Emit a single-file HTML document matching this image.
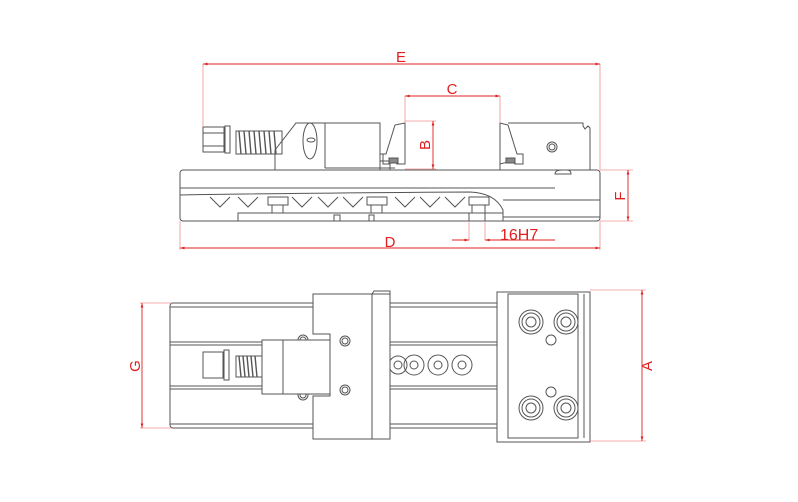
<!DOCTYPE html>
<html><head><style>body{margin:0;background:#fff}svg{display:block}</style></head><body>
<svg width="798" height="502" viewBox="0 0 798 502" xmlns="http://www.w3.org/2000/svg" font-family="Liberation Sans, sans-serif">
<defs>
<marker id="a" viewBox="0 0 10 10" refX="10" refY="5" markerWidth="7" markerHeight="5" orient="auto-start-reverse"><path d="M0,2 L10,5 L0,8 z" fill="#e02020"/></marker>
</defs>
<g fill="none" stroke="#555" stroke-width="1">
<!-- top view rail -->
<rect x="180" y="170" width="420" height="51" rx="3"/>
<line x1="180" y1="188" x2="555" y2="188"/>
<path d="M180,195 Q300,193 470,192 Q495,193 503,210 L503,221"/>
<line x1="503" y1="200" x2="600" y2="200"/>
<line x1="503" y1="217" x2="600" y2="217"/>
<rect x="238" y="213" width="265" height="8"/>
<rect x="334" y="215" width="6" height="6"/><rect x="369" y="215" width="5" height="6"/>
<path d="M555,174 Q555,170 562,170 L567,170 Q571,170 571,174 Z"/>
<path d="M210,197 L220,207 L230,197 M238,197 L248,207 L258,197 M292,197 L302,207 L312,197 M318,197 L328,207 L338,197 M343,197 L353,207 L363,197 M395,197 L405,207 L415,197 M420,197 L430,207 L440,197 M445,197 L455,207 L465,197"/>
<rect x="268" y="197" width="20" height="8"/><rect x="272" y="205" width="11" height="8"/>
<rect x="367" y="197" width="20" height="8"/><rect x="371" y="205" width="11" height="8"/>
<rect x="469" y="197" width="20" height="8"/><rect x="472" y="205" width="13" height="8"/>
<rect x="469" y="213" width="16" height="8"/>
<rect x="203" y="127" width="21" height="25"/><line x1="203" y1="133" x2="224" y2="133"/><line x1="203" y1="146" x2="224" y2="146"/>
<rect x="225" y="126" width="5" height="27"/>
<path d="M236,131 L282,131 L282,154 L236,154 Z"/>
<path d="M239,131 L241,154 M244,131 L246,154 M249,131 L251,154 M254,131 L256,154 M259,131 L261,154 M264,131 L266,154 M269,131 L271,154 M274,131 L276,154" stroke-width="1.4"/>
<path d="M275,170 L275,150 L296,123 L380,123 L380,170"/>
<line x1="325" y1="123" x2="325" y2="168"/>
<line x1="325" y1="168" x2="395" y2="168"/>
<ellipse cx="310" cy="141" rx="7" ry="18"/><ellipse cx="311" cy="140" rx="4" ry="2"/>
<path d="M380,161 L380,154 L386,154 L395,125 L405,123 L405,164 L397,164 L395,161 Z M383,154 L383,164 L390,164 L390,170"/>
<rect x="389" y="158" width="9" height="5" fill="#888"/>
<path d="M500,123 L508,125 L517,154 L523,154 L523,164 L515,164 L512,161 L500,164 Z"/>
<rect x="506" y="158" width="9" height="5" fill="#888"/>
<path d="M500,164 L500,170 M508,123 L583,123 L583,126 L585,129 L588,126 L590,128 L590,170"/>
<circle cx="552" cy="147" r="5"/><circle cx="552" cy="147" r="3"/>

<!-- bottom view -->
<rect x="170" y="303" width="330" height="125" rx="3"/>
<line x1="170" y1="307" x2="500" y2="307"/><line x1="170" y1="424" x2="500" y2="424"/>
<line x1="170" y1="342" x2="500" y2="342"/><line x1="170" y1="345" x2="500" y2="345"/>
<line x1="170" y1="386" x2="500" y2="386"/><line x1="170" y1="389" x2="500" y2="389"/>
<circle cx="303" cy="340" r="5"/><circle cx="303" cy="340" r="3"/>
<circle cx="303" cy="395" r="5"/><circle cx="303" cy="395" r="3"/>
<circle cx="398" cy="365" r="9"/><circle cx="398" cy="365" r="4"/>
<circle cx="414" cy="365" r="10"/><circle cx="414" cy="365" r="4"/>
<circle cx="438" cy="365" r="10"/><circle cx="438" cy="365" r="4"/>
<circle cx="462" cy="365" r="10"/><circle cx="462" cy="365" r="4"/>
<path d="M313,294 L390,294 L390,439 L313,439 L313,396 L330,396 L330,334 L313,334 Z" fill="#fff"/>
<line x1="372" y1="294" x2="372" y2="439"/>
<path d="M372,294 L374,291 L390,291 L390,294" />
<circle cx="345" cy="341" r="5"/><circle cx="345" cy="341" r="3"/>
<circle cx="345" cy="390" r="5"/><circle cx="345" cy="390" r="3"/>
<rect x="262" y="340" width="68" height="54" fill="#fff"/>
<line x1="283" y1="340" x2="283" y2="394"/>
<rect x="203" y="352" width="20" height="26"/><rect x="224" y="350" width="5" height="30"/>
<path d="M236,356 L262,356 L262,377 L236,377 Z"/>
<path d="M239,356 L241,377 M243,356 L245,377 M247,356 L249,377 M251,356 L253,377 M255,356 L257,377" stroke-width="1.4"/>
<rect x="497" y="292" width="93" height="150" fill="#fff"/>
<rect x="508" y="294" width="70" height="144"/>
<line x1="584" y1="294" x2="584" y2="438"/>
<circle cx="531" cy="322" r="12"/><circle cx="531" cy="322" r="9"/><circle cx="531" cy="322" r="5"/>
<circle cx="566" cy="322" r="12"/><circle cx="566" cy="322" r="9"/><circle cx="566" cy="322" r="5"/>
<circle cx="531" cy="408" r="12"/><circle cx="531" cy="408" r="9"/><circle cx="531" cy="408" r="5"/>
<circle cx="566" cy="408" r="12"/><circle cx="566" cy="408" r="9"/><circle cx="566" cy="408" r="5"/>
<circle cx="551" cy="340" r="5"/><circle cx="551" cy="392" r="5"/>
</g>
<g stroke="#f09090" stroke-width="0.8" fill="none">
<line x1="203" y1="64" x2="203" y2="127"/><line x1="600" y1="64" x2="600" y2="170"/>
<line x1="405" y1="96" x2="405" y2="123"/><line x1="500" y1="96" x2="500" y2="123"/>
<line x1="405" y1="121" x2="436" y2="121"/><line x1="405" y1="169" x2="436" y2="169"/>
<line x1="600" y1="170" x2="633" y2="170"/><line x1="600" y1="221" x2="633" y2="221"/>
<line x1="180" y1="221" x2="180" y2="250"/><line x1="600" y1="221" x2="600" y2="250"/>
<line x1="469" y1="221" x2="469" y2="240"/><line x1="485" y1="221" x2="485" y2="240"/>
<line x1="140" y1="303" x2="172" y2="303"/><line x1="140" y1="428" x2="172" y2="428"/>
<line x1="590" y1="290" x2="646" y2="290"/><line x1="590" y1="441" x2="646" y2="441"/>
</g>
<g stroke="#e02020" stroke-width="0.9" fill="none">
<line x1="203" y1="64" x2="600" y2="64" marker-start="url(#a)" marker-end="url(#a)"/>
<line x1="405" y1="96" x2="500" y2="96" marker-start="url(#a)" marker-end="url(#a)"/>
<line x1="433" y1="121" x2="433" y2="169" marker-start="url(#a)" marker-end="url(#a)"/>
<line x1="628" y1="170" x2="628" y2="221" marker-start="url(#a)" marker-end="url(#a)"/>
<line x1="180" y1="248" x2="600" y2="248" marker-start="url(#a)" marker-end="url(#a)"/>
<line x1="452" y1="240" x2="469" y2="240" marker-end="url(#a)"/>
<line x1="555" y1="240" x2="485" y2="240" marker-end="url(#a)"/>
<line x1="142" y1="303" x2="142" y2="428" marker-start="url(#a)" marker-end="url(#a)"/>
<line x1="642" y1="290" x2="642" y2="441" marker-start="url(#a)" marker-end="url(#a)"/>
</g>
<g fill="#e02020" font-size="15">
<text x="401" y="62" text-anchor="middle">E</text>
<text x="452" y="94" text-anchor="middle">C</text>
<text x="390" y="247" text-anchor="middle">D</text>
<text x="500" y="240" font-size="16">16H7</text>
<text transform="translate(430,145) rotate(-90)" text-anchor="middle">B</text>
<text transform="translate(625,196) rotate(-90)" text-anchor="middle">F</text>
<text transform="translate(140,366) rotate(-90)" text-anchor="middle">G</text>
<text transform="translate(652,366) rotate(-90)" text-anchor="middle">A</text>
</g>
</svg>
</body></html>
